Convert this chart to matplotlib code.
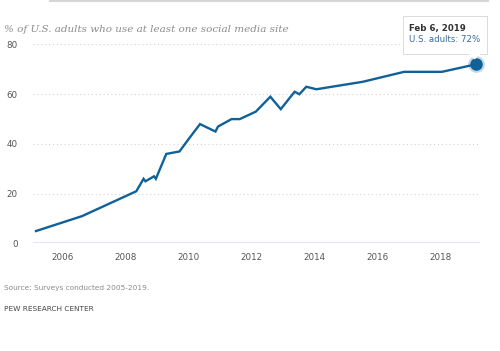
import matplotlib
matplotlib.use('Agg')
import matplotlib.pyplot as plt
from matplotlib.patches import Rectangle, Polygon
from matplotlib.transforms import ScaledTranslation

# survey dates (decimal years) and share of U.S. adults using social media
years = [2005.16, 2006.62, 2008.34, 2008.57, 2008.63, 2008.90, 2008.96,
         2009.29, 2009.71, 2010.00, 2010.36, 2010.85, 2010.93, 2011.36,
         2011.62, 2012.13, 2012.59, 2012.92, 2013.36, 2013.51, 2013.73,
         2014.05, 2015.52, 2016.83, 2018.03, 2019.10]
pct = [5, 11, 21, 26, 25, 27, 26, 36, 37, 42, 48, 45, 47, 50, 50, 53,
       59, 54, 61, 60, 63, 62, 65, 69, 69, 72]
yticks = [0, 20, 40, 60, 80]
xticks = [2006, 2008, 2010, 2012, 2014, 2016, 2018]
tip_date = 'Feb 6, 2019'
tip_label = 'U.S. adults: 72%'

BLUE = '#0f6198'

fig = plt.figure(figsize=(5, 3.51), dpi=100)
ax = fig.add_axes([0.066, 0.3063, 0.894, 0.567])

ax.plot(years, pct, color=BLUE, lw=1.7, solid_joinstyle='miter', zorder=3)
ax.plot(years[-1], pct[-1], 'o', ms=12, color=BLUE, alpha=0.25,
        mec='none', clip_on=False, zorder=4)
ax.plot(years[-1], pct[-1], 'o', ms=9, color=BLUE, mec='none',
        clip_on=False, zorder=5)

ax.set_xlim(2005.065, 2019.237)
ax.set_ylim(0, 80)
ax.set_yticks(yticks)
ax.set_xticks(xticks)
for v in yticks[1:]:
    ax.axhline(v, color='#d4d4d4', lw=0.8, ls=(0, (1, 2.5)), zorder=1)
ax.axhline(0, color='#dde3f0', lw=1.2, zorder=1)
for s in ax.spines.values():
    s.set_visible(False)
ax.tick_params(length=0, labelsize=6.3, colors='#555555')
ax.tick_params(axis='x', pad=7)
ax.tick_params(axis='y', pad=11)

# tooltip anchored to the last point, sizes in inches
tt = fig.dpi_scale_trans + ScaledTranslation(years[-1], pct[-1], ax.transData)
shadow = Rectangle((-0.72, 0.095), 0.84, 0.39, transform=tt, fc='#e6e6e6',
                   ec='none', clip_on=False, zorder=6)
box = Rectangle((-0.73, 0.105), 0.84, 0.38, transform=tt, fc='white',
                ec='#d8d8d8', lw=0.6, clip_on=False, zorder=7)
tri = Polygon([(-0.07, 0.106), (0.05, 0.106), (-0.01, 0.05)], closed=True,
              transform=tt, fc='white', ec='none', clip_on=False, zorder=8)
fig.add_artist(shadow)
fig.add_artist(box)
fig.add_artist(tri)
fig.text(-0.665, 0.355, tip_date, transform=tt, fontsize=6.2, fontweight='bold',
         color='#333333', va='center', zorder=9)
fig.text(-0.665, 0.25, tip_label, transform=tt, fontsize=6.2,
         color='#3a6c9c', va='center', zorder=9)

fig.text(0.008, 0.917, '% of U.S. adults who use at least one social media site',
         fontsize=7.5, family='DejaVu Serif', style='italic', color='#8c8c8c',
         va='center')
fig.text(0.008, 0.18, 'Source: Surveys conducted 2005-2019.', fontsize=5.3,
         color='#8a8a8a', va='center')
fig.text(0.008, 0.12, 'PEW RESEARCH CENTER', fontsize=5.3, color='#444444',
         va='center')
fig.add_artist(plt.Line2D([0.1, 0.975], [0.998, 0.998], color='#d6d6d6',
                          lw=1.5))

fig.savefig('out.png', dpi=100)
